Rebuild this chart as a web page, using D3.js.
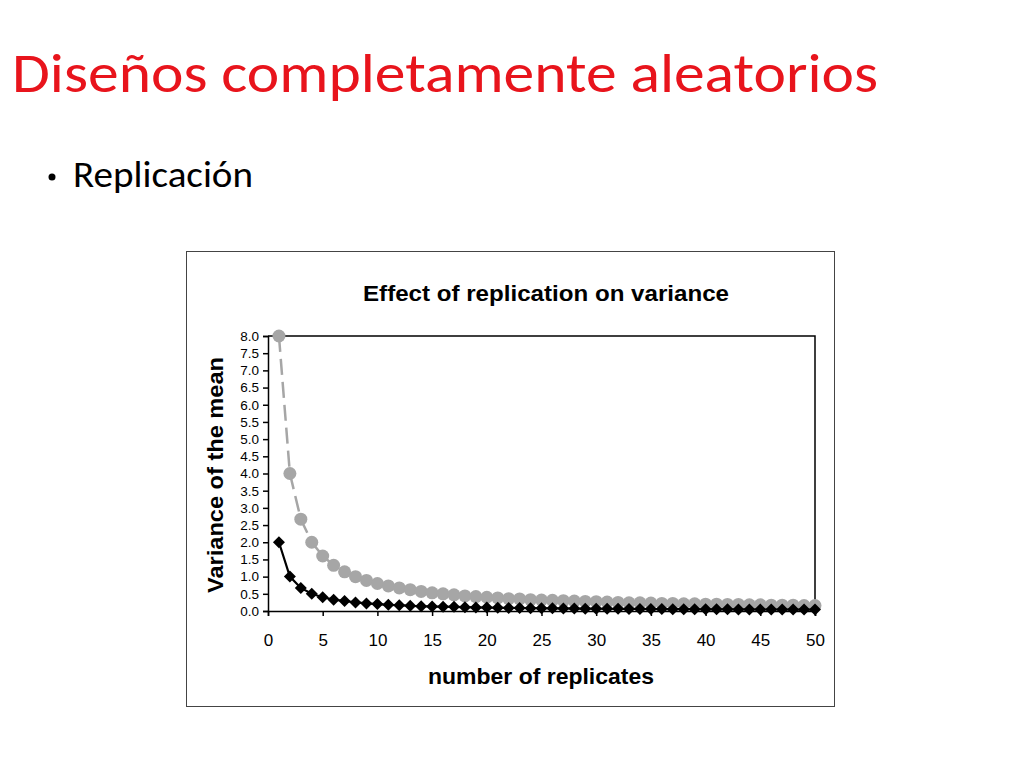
<!DOCTYPE html>
<html><head><meta charset="utf-8">
<script src="https://cdn.jsdelivr.net/npm/d3@7"></script>
<style>
html,body{margin:0;padding:0;background:#fff;}
svg{display:block;}
</style></head>
<body>
<svg id="c" width="1024" height="768"></svg>
<script>
const replicates = d3.range(1, 51);
const seriesGray = [8.0,4.0,2.67,2.0,1.6,1.33,1.14,1.0,0.89,0.8,0.73,0.67,0.62,0.57,0.53,0.5,0.47,0.44,0.42,0.4,0.38,0.36,0.35,0.33,0.32,0.31,0.30,0.29,0.28,0.27,0.26,0.25,0.24,0.24,0.23,0.22,0.22,0.21,0.21,0.2,0.2,0.19,0.19,0.18,0.18,0.17,0.17,0.17,0.16,0.16];
const seriesBlack = [2.0,1.0,0.67,0.5,0.4,0.33,0.29,0.25,0.22,0.2,0.18,0.17,0.15,0.14,0.13,0.125,0.12,0.11,0.105,0.1,0.095,0.09,0.087,0.083,0.08,0.077,0.074,0.071,0.069,0.067,0.065,0.063,0.061,0.059,0.057,0.056,0.054,0.053,0.051,0.05,0.049,0.048,0.047,0.045,0.044,0.043,0.043,0.042,0.041,0.04];
const xTicks = [0,5,10,15,20,25,30,35,40,45,50];
const yTicks = [0,0.5,1,1.5,2,2.5,3,3.5,4,4.5,5,5.5,6,6.5,7,7.5,8];

const svg = d3.select("#c");
const titleFont = "Calibri, Carlito, Lato, 'Open Sans', sans-serif";
svg.append("text").attr("x", 12).attr("y", 92)
  .attr("font-family", titleFont).attr("font-size", 56).attr("fill", "#e8141c")
  .attr("textLength", 866).attr("lengthAdjust", "spacingAndGlyphs")
  .text("Diseños completamente aleatorios");
svg.append("circle").attr("cx", 52).attr("cy", 177).attr("r", 3.5).attr("fill", "#000");
svg.append("text").attr("x", 73).attr("y", 187)
  .attr("font-family", titleFont).attr("font-size", 37).attr("fill", "#000")
  .attr("textLength", 180).attr("lengthAdjust", "spacingAndGlyphs")
  .text("Replicación");

// chart box
svg.append("rect").attr("x", 186.5).attr("y", 251.5).attr("width", 648).attr("height", 455)
  .attr("fill", "#fff").attr("stroke", "#444").attr("stroke-width", 1);

const arial = "Arial, 'Liberation Sans', Helvetica, sans-serif";
svg.append("text").attr("x", 546).attr("y", 301).attr("text-anchor", "middle")
  .attr("font-family", arial).attr("font-weight", "bold").attr("font-size", 22)
  .attr("textLength", 366).attr("lengthAdjust", "spacingAndGlyphs")
  .text("Effect of replication on variance");

const L = 268, R = 815, T = 336, B = 611;
const x = d3.scaleLinear().domain([0, 50]).range([L, R]);
const y = d3.scaleLinear().domain([0, 8]).range([B, T]);

// frame top/right
svg.append("path").attr("d", `M${L},${T}H${R}V${B}`).attr("fill", "none").attr("stroke", "#000").attr("stroke-width", 1.5);

const yAxis = svg.append("g").attr("transform", `translate(${L},0)`)
  .call(d3.axisLeft(y).tickValues(yTicks).tickFormat(d3.format(".1f")).tickSize(5).tickPadding(4));
yAxis.selectAll("text").attr("font-family", arial).attr("font-size", 13.5).attr("fill", "#000");
yAxis.selectAll("line,path").attr("stroke", "#000").attr("stroke-width", 1.5);

const xAxis = svg.append("g").attr("transform", `translate(0,${B})`)
  .call(d3.axisBottom(x).tickValues(xTicks).tickFormat(d3.format("d")).tickSize(5).tickPadding(18));
xAxis.selectAll("text").attr("font-family", arial).attr("font-size", 17).attr("fill", "#000");
xAxis.selectAll("line,path").attr("stroke", "#000").attr("stroke-width", 1.5);

svg.append("text").attr("transform", `translate(223,475) rotate(-90)`).attr("text-anchor", "middle")
  .attr("font-family", arial).attr("font-weight", "bold").attr("font-size", 22)
  .attr("textLength", 236).attr("lengthAdjust", "spacingAndGlyphs")
  .text("Variance of the mean");
svg.append("text").attr("x", 541).attr("y", 684).attr("text-anchor", "middle")
  .attr("font-family", arial).attr("font-weight", "bold").attr("font-size", 22)
  .attr("textLength", 226).attr("lengthAdjust", "spacingAndGlyphs")
  .text("number of replicates");

const line = d3.line().x((d, i) => x(replicates[i])).y(d => y(d));
svg.append("path").datum(seriesGray).attr("d", line).attr("fill", "none")
  .attr("stroke", "#a6a6a6").attr("stroke-width", 2.5).attr("stroke-dasharray", "16,7");
svg.append("g").selectAll("circle").data(seriesGray).join("circle")
  .attr("cx", (d, i) => x(replicates[i])).attr("cy", d => y(d)).attr("r", 6.5).attr("fill", "#a6a6a6");

svg.append("path").datum(seriesBlack).attr("d", line).attr("fill", "none")
  .attr("stroke", "#000").attr("stroke-width", 2.2);
svg.append("g").selectAll("path").data(seriesBlack).join("path")
  .attr("transform", (d, i) => `translate(${x(replicates[i])},${y(d)}) rotate(45)`)
  .attr("d", d3.symbol().type(d3.symbolSquare).size(72)).attr("fill", "#000");
</script>
</body></html>
